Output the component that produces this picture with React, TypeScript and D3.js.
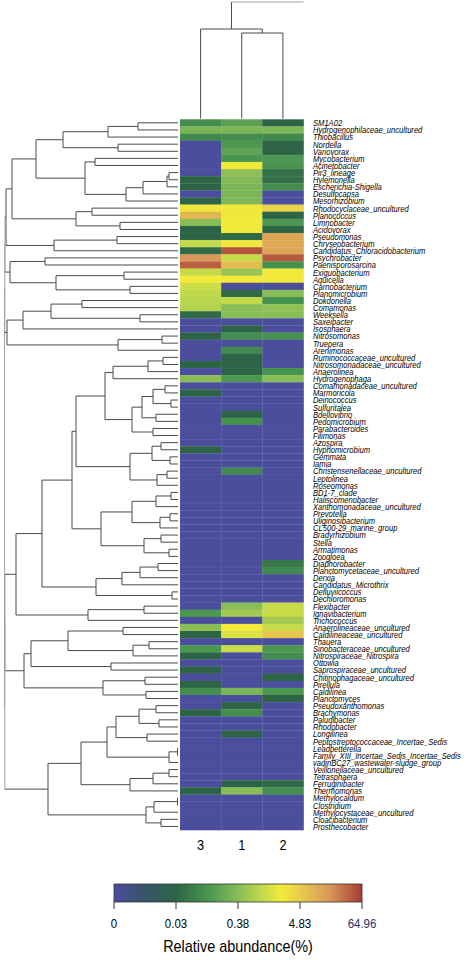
import React from 'react';
import * as d3 from 'd3';

const genera = [
  'SM1A02', 'Hydrogenophilaceae_uncultured', 'Thiobacillus', 'Nordella', 'Variovorax', 'Mycobacterium',
  'Acinetobacter', 'Pir3_lineage', 'Hylemonella', 'Escherichia-Shigella', 'Desulfocapsa', 'Mesorhizobium',
  'Rhodocyclaceae_uncultured', 'Planococcus', 'Limnobacter', 'Acidovorax', 'Pseudomonas', 'Chryseobacterium',
  'Candidatus_Chloracidobacterium', 'Psychrobacter', 'Paenisporosarcina', 'Exiguobacterium', 'Aquicella',
  'Carnobacterium', 'Planomicrobium', 'Dokdonella', 'Comamonas', 'Weeksella', 'Saxeibacter', 'Isosphaera',
  'Nitrosomonas', 'Truepera', 'Arenimonas', 'Ruminococcaceae_uncultured', 'Nitrosomonadaceae_uncultured',
  'Anaerolinea', 'Hydrogenophaga', 'Comamonadaceae_uncultured', 'Marmoricola', 'Deinococcus', 'Sulfuritalea',
  'Bdellovibrio', 'Pedomicrobium', 'Parabacteroides', 'Filimonas', 'Azospira', 'Hyphomicrobium', 'Gemmata',
  'Iamia', 'Christensenellaceae_uncultured', 'Leptolinea', 'Roseomonas', 'BD1-7_clade', 'Haliscomenobacter',
  'Xanthomonadaceae_uncultured', 'Prevotella', 'Uliginosibacterium', 'CL500-29_marine_group', 'Bradyrhizobium',
  'Stella', 'Armatimonas', 'Zoogloea', 'Diaphorobacter', 'Planctomycetaceae_uncultured', 'Derxia',
  'Candidatus_Microthrix', 'Defluviicoccus', 'Dechloromonas', 'Flexibacter', 'Ignavibacterium', 'Trichococcus',
  'Anaerolineaceae_uncultured', 'Caldilineaceae_uncultured', 'Thauera', 'Sinobacteraceae_uncultured',
  'Nitrospiraceae_Nitrospira', 'Ottowia', 'Saprospiraceae_uncultured', 'Chitinophagaceae_uncultured',
  'Pirellula', 'Caldilinea', 'Planctomyces', 'Pseudoxanthomonas', 'Brachymonas', 'Paludibacter', 'Rhodobacter',
  'Longilinea', 'Peptostreptococcaceae_Incertae_Sedis', 'Leadbetterella', 'Family_XIII_Incertae_Sedis_Incertae_Sedis',
  'vadinBC27_wastewater-sludge_group', 'Veillonellaceae_uncultured', 'Tetrasphaera', 'Ferruginibacter',
  'Thermomonas', 'Methylocaldum', 'Clostridium', 'Methylocystaceae_uncultured', 'Cloacibacterium', 'Prosthecobacter',
];

const samples = ['3', '1', '2'];

// relative abundance (%) per genus, one array per sample (row order as drawn)
const sample3 = [
  0.09, 0.3, 0.08, 0, 0, 0, 0, 0, 0.03, 0.03,
  0, 0.03, 2.5, 8, 0.4, 0.03, 0.03, 1.0, 0.035, 16,
  38, 1.1, 2.3, 1.2, 1.0, 0.9, 0.8, 0.035, 0, 0,
  0.03, 0, 0, 0, 0.03, 0, 0.4, 0, 0.03, 0,
  0, 0, 0, 0, 0, 0, 0.03, 0, 0, 0,
  0, 0, 0, 0, 0, 0, 0, 0, 0, 0,
  0, 0, 0, 0, 0, 0, 0, 0, 0, 0.12,
  0, 0.4, 0.03, 0, 0.12, 0.03, 0, 0.03, 0, 0.03,
  0.09, 0, 0, 0.03, 0, 0, 0, 0, 0, 0,
  0, 0, 0, 0, 0.03, 0, 0, 0, 0, 0,
];
const sample1 = [
  0.16, 0.3, 0.09, 0.12, 0.18, 0.11, 2.2, 0.45, 0.36, 0.3,
  0.3, 0.33, 2.4, 2.0, 2.3, 2.2, 0.035, 2.6, 45, 1.1,
  7, 0.5, 2.3, 0, 0.035, 1.0, 0.4, 0.4, 0, 0.03,
  0.09, 0, 0.08, 0.03, 0.03, 0.03, 0.12, 0, 0, 0,
  0, 0.03, 0.1, 0, 0, 0, 0, 0, 0, 0.08,
  0, 0, 0, 0, 0, 0, 0, 0, 0, 0,
  0, 0, 0, 0, 0, 0, 0, 0, 0.4, 0.6,
  0, 2.3, 1.5, 0, 1.1, 0, 0, 0, 0, 0,
  0.3, 0, 0.03, 0.09, 0, 0, 0.03, 0, 0, 0,
  0, 0, 0, 0.03, 0.4, 0, 0, 0, 0, 0,
];
const sample2 = [
  0.03, 0.32, 0.08, 0.03, 0.03, 0.12, 0.11, 0.04, 0.04, 0.09,
  0, 0, 4.0, 0.03, 0.12, 0.03, 12, 11, 12, 42,
  0.1, 2.3, 2.3, 0, 0.4, 0.1, 0.45, 0.4, 0, 0,
  0.1, 0, 0, 0, 0, 0.1, 0.4, 0, 0, 0,
  0, 0, 0, 0, 0, 0, 0, 0, 0, 0,
  0, 0, 0, 0, 0, 0, 0, 0, 0, 0,
  0, 0, 0.05, 0.08, 0, 0, 0, 0, 1.1, 1.1,
  0.6, 1.1, 5.5, 0, 0.12, 0.09, 0, 0, 0.03, 0,
  0.12, 0.03, 0, 0, 0, 0, 0, 0, 0, 0,
  0, 0, 0, 0.035, 0.09, 0, 0, 0, 0, 0,
];
const sampleValues: Record<string, number[]> = { '3': sample3, '1': sample1, '2': sample2 };

const legendTicks = [0, 0.03, 0.38, 4.83, 64.96];
const legendTickLabels = ['0', '0.03', '0.38', '4.83', '64.96'];

// hclust-style merges: negative = leaf (1-based row), positive = earlier merge (1-based), then height
const rowMerge: [number, number, number][] = [
  [-1, -2, 40], [1, -3, 70], [-4, -5, 60], [2, 3, 115], [-6, -7, 83], [-8, -9, 9], [6, -10, 11], [7, -11, 35],
  [8, -12, 52], [5, 9, 93], [4, 10, 142], [-13, -14, 86], [-15, -16, 58], [12, 13, 102], [11, 14, 166],
  [-17, -18, 61], [16, -19, 124], [15, 17, 172], [-20, -21, 133], [-22, -23, 54], [-24, -25, 48], [20, 21, 122],
  [19, 22, 168], [18, 23, 173], [-26, -27, 96], [-28, -29, 38], [25, 26, 127], [27, -30, 155], [-31, -32, 16],
  [29, -33, 60], [28, 30, 171], [24, 31, 173.2], [-34, -35, 15], [33, -36, 30], [34, -37, 65], [-38, -39, 13],
  [-40, -41, 7], [36, 37, 25], [-42, -43, 22], [38, 39, 36], [-44, -45, 25], [40, 41, 46], [35, 42, 73],
  [-46, -47, 17], [-48, -49, 8], [44, 45, 26], [-50, -51, 11], [47, -52, 21], [46, 48, 48], [43, 49, 102],
  [-53, -54, 7], [51, -55, 22], [-56, -57, 8], [53, -58, 18], [52, 54, 46], [-59, -60, 17], [-61, -62, 9],
  [56, 57, 34], [55, 58, 77], [50, 59, 106], [-63, -64, 20], [61, -65, 38], [62, -66, 56], [-67, -68, 6],
  [63, 64, 82], [60, 65, 136], [-69, -70, 34], [67, -71, 90], [66, 68, 162], [-72, -73, 55], [-74, -75, 29],
  [71, -76, 45], [70, 72, 110], [-77, -78, 67], [73, 74, 147], [-79, -80, 33], [-81, -82, 32], [76, 77, 75],
  [75, 78, 154], [69, 79, 173], [-83, -84, 22], [-85, -86, 19], [81, 82, 39], [-87, -88, 31], [83, 84, 62],
  [-89, -90, 0.5], [86, -91, 9], [85, 87, 71], [-92, -93, 9], [89, -94, 25], [90, -95, 48], [88, 91, 97],
  [-96, -97, 0.5], [93, -98, 24], [-99, -100, 17], [94, 95, 32], [92, 96, 130], [80, 97, 173.2], [32, 98, 173.5],
];
const colMerge: [number, number, number][] = [[-2, -3, 85.5], [-1, 1, 89.5]];
const colRootHeight = 116.5;

const colorStops = [0, 0.5, 1, 1.5, 2, 2.4, 2.7, 3, 3.5, 4];
const colorRange = ['#4a4e9c', '#385468', '#2e6446', '#469450', '#86bc58', '#c4da4a', '#f3ea3a', '#e8cc4c', '#d8945a', '#a63b30'];

const W = 472, H = 960;
const FONT = '"Liberation Sans", Arial, sans-serif';

function valuePos(v: number): number {
  if (v <= 0) return 0;
  const t = legendTicks;
  if (v <= t[1]) return v / t[1];
  for (let i = 1; i < t.length - 1; i++) {
    if (v <= t[i + 1]) return i + Math.log(v / t[i]) / Math.log(t[i + 1] / t[i]);
  }
  return t.length - 1;
}

type Node = { pos: number; h: number };
function dendroSegments(merges: [number, number, number][], leafPos: (i: number) => number) {
  const nodes: Node[] = [];
  const get = (r: number): Node => (r < 0 ? { pos: leafPos(-r - 1), h: 0 } : nodes[r - 1]);
  const out: { a: Node; b: Node; h: number }[] = [];
  merges.forEach(([a, b, h]) => {
    const A = get(a), B = get(b);
    nodes.push({ pos: (A.pos + B.pos) / 2, h });
    out.push({ a: A, b: B, h });
  });
  return { segs: out, root: nodes[nodes.length - 1] };
}

export default function App() {
  const y = d3.scaleBand<string>().domain(genera).range([119.3, 830]);
  const x = d3.scaleBand<string>().domain(samples).range([180, 303.5]);
  const rowH = d3.scaleLinear().domain([0, 173.5]).range([178, 4.5]);
  const colH = d3.scaleLinear().domain([0, colRootHeight]).range([118.5, 2]);
  const posScale = d3.scaleLinear<string>().domain(colorStops).range(colorRange).interpolate(d3.interpolateRgb);
  const color = (v: number) => posScale(valuePos(v));
  const legendX = d3.scalePoint<number>().domain(legendTicks).range([114, 362]);

  const rowD = dendroSegments(rowMerge, (i) => (y(genera[i]) as number) + y.bandwidth() / 2);
  const colD = dendroSegments(colMerge, (i) => (x(samples[i]) as number) + x.bandwidth() / 2);

  const gradStops = d3.range(0, 4.0001, 0.1);

  return (
    <svg width={W} height={H} style={{ position: 'absolute', left: 0, top: 0, background: '#fff' }}>
      <defs>
        <linearGradient id="lg" x1="0" x2="1" y1="0" y2="0">
          {gradStops.map((p) => (
            <stop key={p} offset={p / 4} stopColor={posScale(p)} />
          ))}
        </linearGradient>
      </defs>
      {/* heatmap */}
      {genera.map((g, i) =>
        samples.map((s) => (
          <rect key={g + s} x={x(s)} y={y(g)} width={x.bandwidth() + 0.3} height={y.bandwidth() + 0.3}
            fill={color(sampleValues[s][i])} />
        ))
      )}
      {genera.slice(1).map((g) => (
        <line key={'gl' + g} x1={180} x2={303.5} y1={y(g)} y2={y(g)} stroke="#ffffff" strokeOpacity={0.06} strokeWidth={0.6} />
      ))}
      {/* row dendrogram */}
      <g fill="none" strokeWidth={1}>
        {rowD.segs.map((s, i) => {
          const xn = rowH(s.h);
          const c = s.h >= 172.5 ? '#a0a0a0' : '#4a4a4a';
          return (
            <g key={'r' + i} stroke={c}>
              <line x1={xn} x2={xn} y1={s.a.pos} y2={s.b.pos} />
              <line x1={xn} x2={rowH(s.a.h)} y1={s.a.pos} y2={s.a.pos} stroke="#4a4a4a" />
              <line x1={xn} x2={rowH(s.b.h)} y1={s.b.pos} y2={s.b.pos} stroke="#4a4a4a" />
            </g>
          );
        })}
      </g>
      {/* column dendrogram */}
      <g fill="none" stroke="#4a4a4a" strokeWidth={1}>
        {colD.segs.map((s, i) => {
          const yn = colH(s.h);
          return (
            <g key={'c' + i}>
              <line y1={yn} y2={yn} x1={s.a.pos} x2={s.b.pos} />
              <line y1={yn} y2={colH(s.a.h)} x1={s.a.pos} x2={s.a.pos} />
              <line y1={yn} y2={colH(s.b.h)} x1={s.b.pos} x2={s.b.pos} />
            </g>
          );
        })}
        <line x1={colD.root.pos} x2={colD.root.pos} y1={colH(colD.root.h)} y2={colH(colRootHeight)} />
        <line x1={colD.root.pos} x2={303.5} y1={colH(colRootHeight)} y2={colH(colRootHeight)} stroke="#a0a0a0" />
      </g>
      {/* row labels */}
      {genera.map((g) => (
        <text key={'t' + g} transform={`translate(313,${(y(g) as number) + y.bandwidth() / 2 + 3.4}) scale(0.8,1)`}
          fontFamily={FONT} fontStyle="italic" fontSize={9.5} fill="#000">{g}</text>
      ))}
      {/* column labels */}
      {samples.map((s) => (
        <text key={'s' + s} transform={`translate(${(x(s) as number) + x.bandwidth() / 2},850) scale(0.85,1)`}
          textAnchor="middle" fontFamily={FONT} fontSize={15} fill="#000">{s}</text>
      ))}
      {/* legend */}
      <rect x={114} y={884} width={248} height={18} fill="url(#lg)" stroke="#333" strokeWidth={0.8} />
      {legendTicks.map((t, i) => (
        <g key={'lt' + i}>
          <line x1={legendX(t)} x2={legendX(t)} y1={902} y2={909} stroke="#333" strokeWidth={1} />
          <text transform={`translate(${legendX(t)},928) scale(0.85,1)`} textAnchor="middle" fontFamily={FONT}
            fontSize={13.5} fill={i === legendTicks.length - 1 ? '#26306e' : '#000'}>{legendTickLabels[i]}</text>
        </g>
      ))}
      <text transform="translate(238,952) scale(0.9,1)" textAnchor="middle" fontFamily={FONT} fontSize={16} fill="#000">
        Relative abundance(%)
      </text>
    </svg>
  );
}
